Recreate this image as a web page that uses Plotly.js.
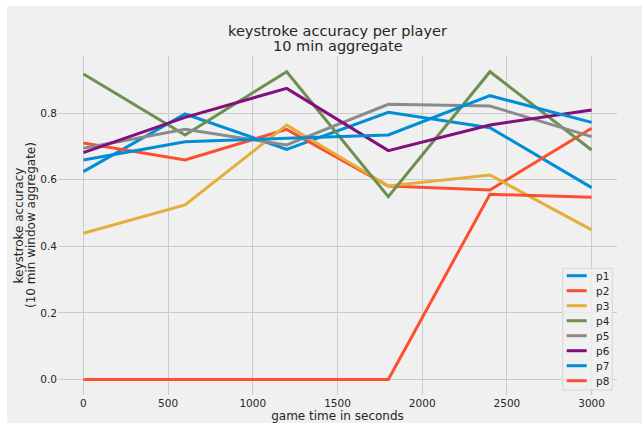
<!DOCTYPE html>
<html>
<head>
<meta charset="utf-8">
<script src="https://cdn.plot.ly/plotly-3.0.1.min.js"></script>
<style>
  html, body { margin: 0; padding: 0; background: #ffffff; }
  #chart { position: absolute; left: 7px; top: 6px; width: 635px; height: 417px; }
</style>
</head>
<body>
<div id="chart"></div>
<script>
// ---- data ----
const gameTime = [0, 600, 1200, 1800, 2400, 3000];
const playerNames = ['p1', 'p2', 'p3', 'p4', 'p5', 'p6', 'p7', 'p8'];
const p1 = [0.624, 0.797, 0.691, 0.802, 0.756, 0.576];
const p2 = [0.710, 0.659, 0.751, 0.581, 0.569, 0.754];
const p3 = [0.439, 0.524, 0.764, 0.581, 0.614, 0.449];
const p4 = [0.917, 0.734, 0.924, 0.549, 0.924, 0.689];
const p5 = [0.694, 0.751, 0.704, 0.826, 0.821, 0.729];
const p6 = [0.681, 0.787, 0.874, 0.687, 0.764, 0.809];
const p7 = [0.659, 0.714, 0.724, 0.734, 0.852, 0.772];
const p8 = [0.000, 0.000, 0.000, 0.000, 0.556, 0.547];
const xTickVals = [0, 500, 1000, 1500, 2000, 2500, 3000];
const yTickVals = [0.0, 0.2, 0.4, 0.6, 0.8];
const titleLine1 = 'keystroke accuracy per player';
const titleLine2 = '10 min aggregate';
const xTitle = 'game time in seconds';
const yTitleLine1 = 'keystroke accuracy';
const yTitleLine2 = '(10 min window aggregate)';

// ---- style ----
const palette = ['#008fd5', '#fc4f30', '#e5ae38', '#6d904f', '#8b8b8b', '#810f7c'];
const seriesValues = [p1, p2, p3, p4, p5, p6, p7, p8];
const FONT = 'DejaVu Sans, sans-serif';
const TEXT = '#262626';
const TICK = 10.5;

const traces = seriesValues.map((vals, i) => ({
  type: 'scatter',
  mode: 'lines',
  name: playerNames[i],
  x: gameTime,
  y: vals,
  line: { color: palette[i % palette.length], width: 3 },
  showlegend: false,
  hoverinfo: 'x+y+name'
}));

// custom legend (matplotlib-like compact legend) built from names/colours
const plotTop = 56, plotBottom = 395, plotLeft = 58, plotW = 559, plotH = 339;
const px2x = px => (px - plotLeft) / plotW;
const py2y = py => (plotBottom - py) / plotH;

const shapes = [{
  type: 'rect', xref: 'paper', yref: 'paper', layer: 'above',
  x0: px2x(562.7), x1: px2x(612.3), y0: py2y(390), y1: py2y(268.3),
  fillcolor: 'rgba(240,240,240,0.8)', line: { color: '#d6d6d6', width: 1 }
}];
const annotations = [];
playerNames.forEach((nm, i) => {
  const cy = py2y(275.7 + 15 * i);
  shapes.push({
    type: 'line', xref: 'paper', yref: 'paper', layer: 'above',
    x0: px2x(566.7), x1: px2x(586.7), y0: cy, y1: cy,
    line: { color: palette[i % palette.length], width: 3 }
  });
  annotations.push({
    xref: 'paper', yref: 'paper', x: px2x(594), y: cy,
    xanchor: 'left', yanchor: 'middle', showarrow: false,
    text: nm, font: { family: FONT, size: 10.5, color: TEXT }
  });
});

annotations.push({
  xref: 'paper', yref: 'paper', x: 0.5, y: py2y(45.5),
  xanchor: 'center', yanchor: 'middle', showarrow: false,
  text: titleLine2, font: { family: FONT, size: 14.5, color: TEXT }
});
annotations.push({
  xref: 'paper', yref: 'paper', x: px2x(18), y: 0.5,
  xanchor: 'center', yanchor: 'middle', showarrow: false, textangle: -90,
  text: yTitleLine1, font: { family: FONT, size: 12, color: TEXT }
});
annotations.push({
  xref: 'paper', yref: 'paper', x: px2x(30.5), y: 0.5,
  xanchor: 'center', yanchor: 'middle', showarrow: false, textangle: -90,
  text: yTitleLine2, font: { family: FONT, size: 12, color: TEXT }
});

const layout = {
  width: 635, height: 417,
  paper_bgcolor: '#f0f0f0',
  plot_bgcolor: '#f0f0f0',
  margin: { l: 51, r: 25, t: 50, b: 28, pad: 0 },
  font: { family: FONT, size: TICK, color: TEXT },
  title: {
    text: titleLine1,
    font: { family: FONT, size: 14.5, color: TEXT },
    xref: 'paper', x: 0.5, xanchor: 'center',
    yref: 'container', y: 1 - (31 - 6) / 417, yanchor: 'middle'
  },
  xaxis: {
    range: [-150, 3150],
    tickvals: xTickVals,
    ticktext: xTickVals.map(String),
    showgrid: true, gridcolor: '#cbcbcb', gridwidth: 1,
    zeroline: false, showline: false, ticks: '',
    tickfont: { family: FONT, size: TICK, color: TEXT },
    automargin: false,
    title: { text: xTitle, font: { family: FONT, size: 12, color: TEXT }, standoff: 5 }
  },
  yaxis: {
    range: [-0.0465, 0.9711],
    tickvals: yTickVals,
    ticktext: yTickVals.map(v => v.toFixed(1)),
    showgrid: true, gridcolor: '#cbcbcb', gridwidth: 1,
    zeroline: false, showline: false, ticks: '',
    tickfont: { family: FONT, size: TICK, color: TEXT },
    automargin: false
  },
  shapes: shapes,
  annotations: annotations,
  showlegend: false
};

Plotly.newPlot('chart', traces, layout, { displayModeBar: false, responsive: false });
</script>
</body>
</html>
